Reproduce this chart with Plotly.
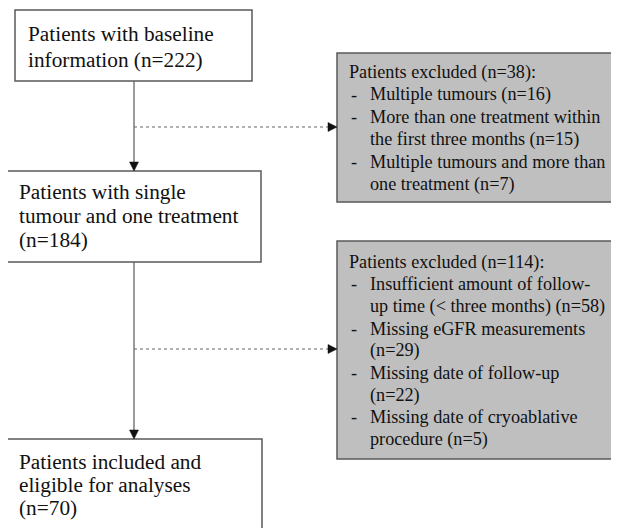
import plotly.graph_objects as go

# ---- data (flowchart content) ----
main_texts = [
    ["Patients with baseline", "information (n=222)"],
    ["Patients with single", "tumour and one treatment", "(n=184)"],
    ["Patients included and", "eligible for analyses", "(n=70)"],
]
excl_headers = ["Patients excluded (n=38):", "Patients excluded (n=114):"]
excl_items = [
    [["Multiple tumours (n=16)"],
     ["More than one treatment within", "the first three months (n=15)"],
     ["Multiple tumours and more than", "one treatment (n=7)"]],
    [["Insufficient amount of follow-", "up time (< three months) (n=58)"],
     ["Missing eGFR measurements", "(n=29)"],
     ["Missing date of follow-up", "(n=22)"],
     ["Missing date of cryoablative", "procedure (n=5)"]],
]

# ---- layout geometry (pixels of the window) ----
W, H = 619, 528
OFF = 8  # default page margin of the html body
main_boxes = [(15, 10, 252, 81), (7, 171, 261, 262), (7, 439, 262, 540)]
main_text_x = [26, 17, 17]
main_first_y = [34, 192, 462]
main_lh = [26, 24, 23]
excl_boxes = [(337, 53, 617, 202), (337, 241, 617, 459)]
excl_first_y = [72, 262]
excl_lh = [22.5, 22.2]
arrow_y = [127, 349]
line_x = 134

FONT = "Liberation Serif"
BORDER = "#5a5a5a"
TXT = "#111111"
MAIN_SIZE = 21.3
EXCL_SIZE = 18.2

fig = go.Figure()
shapes = []
ann = []

for (x0, y0, x1, y1) in main_boxes:
    shapes.append(dict(type="rect", x0=x0, y0=y0, x1=x1, y1=y1, xref="x", yref="y",
                       line=dict(color=BORDER, width=1.5), fillcolor="white", layer="below"))
for (x0, y0, x1, y1) in excl_boxes:
    shapes.append(dict(type="rect", x0=x0, y0=y0, x1=x1, y1=y1, xref="x", yref="y",
                       line=dict(color=BORDER, width=1.5), fillcolor="#bfbfbf", layer="below"))

# vertical solid connectors with arrowheads
for i in range(2):
    ytop = main_boxes[i][3]
    ybot = main_boxes[i + 1][1]
    shapes.append(dict(type="line", x0=line_x, x1=line_x, y0=ytop, y1=ybot - 7, xref="x", yref="y",
                       line=dict(color="#666666", width=1.3)))
    shapes.append(dict(type="path", xref="x", yref="y",
                       path=f"M {line_x-4.5},{ybot-9} L {line_x+4.5},{ybot-9} L {line_x},{ybot} Z",
                       fillcolor="#111111", line=dict(color="#111111", width=0.5)))

# dotted connectors with arrowheads
for i, ya in enumerate(arrow_y):
    xend = excl_boxes[i][0]
    shapes.append(dict(type="line", x0=line_x, x1=xend - 8, y0=ya, y1=ya, xref="x", yref="y",
                       line=dict(color="#666666", width=1.2, dash="dot")))
    shapes.append(dict(type="path", xref="x", yref="y",
                       path=f"M {xend-9},{ya-4.5} L {xend-9},{ya+4.5} L {xend},{ya} Z",
                       fillcolor="#111111", line=dict(color="#111111", width=0.5)))

def add_text(x, y, t, size):
    ann.append(dict(x=x, y=y, xref="x", yref="y", text=t, showarrow=False,
                    xanchor="left", yanchor="middle",
                    font=dict(family=FONT, size=size, color=TXT)))

for i, lines in enumerate(main_texts):
    for j, t in enumerate(lines):
        add_text(main_text_x[i], main_first_y[i] + j * main_lh[i], t, MAIN_SIZE)

for i in range(2):
    x0 = excl_boxes[i][0]
    y = excl_first_y[i]
    add_text(x0 + 10, y, excl_headers[i], EXCL_SIZE)
    k = 1
    for item in excl_items[i]:
        for j, t in enumerate(item):
            yy = y + k * excl_lh[i]
            if j == 0:
                add_text(x0 + 12, yy, "-", EXCL_SIZE)
            add_text(x0 + 31, yy, t, EXCL_SIZE)
            k += 1

fig.update_layout(
    width=W - OFF, height=H - OFF, margin=dict(l=0, r=0, t=0, b=0),
    paper_bgcolor="white", plot_bgcolor="white",
    xaxis=dict(range=[OFF, W], visible=False, fixedrange=True),
    yaxis=dict(range=[H, OFF], visible=False, fixedrange=True),
    shapes=shapes, annotations=ann, showlegend=False,
)
fig.write_html("out.html")
